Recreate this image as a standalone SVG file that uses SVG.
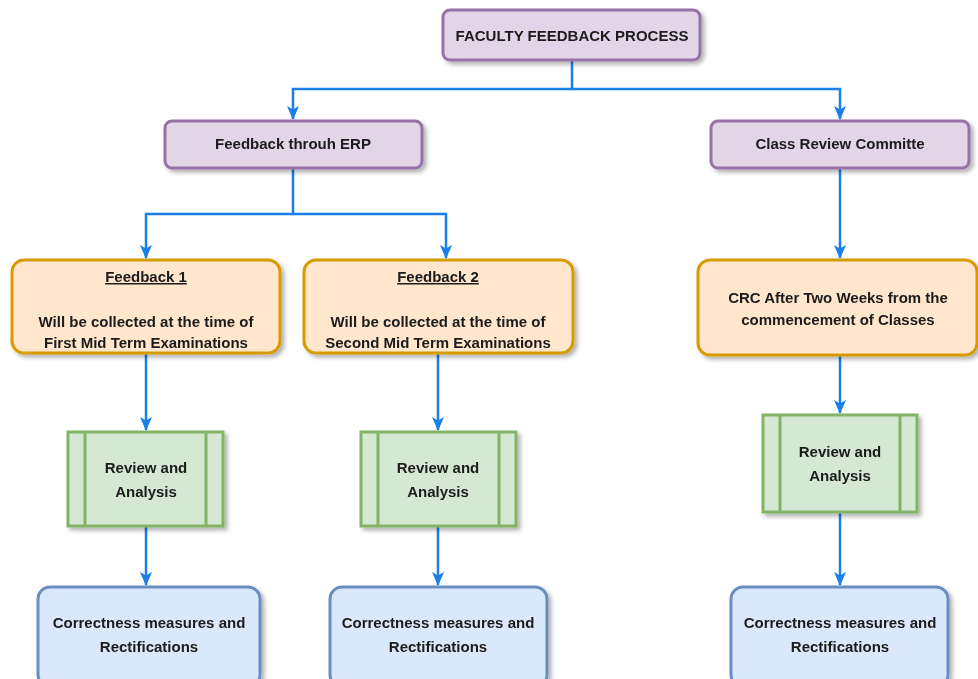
<svg xmlns="http://www.w3.org/2000/svg" width="978" height="679" viewBox="0 0 978 679">
<style>
text{font-family:"Liberation Sans",Arial,sans-serif;font-weight:bold;font-size:15px;fill:#1a1a1a;text-anchor:middle}
.p{fill:#e1d5e7;stroke:#9673a6;stroke-width:3}
.o{fill:#ffe6cc;stroke:#d79b00;stroke-width:3}
.g{fill:#d5e8d4;stroke:#82b366;stroke-width:3}
.b{fill:#dae8fc;stroke:#6c8ebf;stroke-width:3}
.c{fill:none;stroke:#1a7fe8;stroke-width:2.5}
.sh{filter:url(#sh)}
</style>
<defs>
<filter id="sh" x="-10%" y="-10%" width="130%" height="140%">
<feDropShadow dx="3" dy="3" stdDeviation="2" flood-color="#000" flood-opacity="0.3"/>
</filter>
<marker id="ar" viewBox="0 0 14 14" refX="13" refY="7" markerWidth="14" markerHeight="14" orient="auto" markerUnits="userSpaceOnUse">
<path d="M0,1 L14,7 L0,13 L3.5,7 Z" fill="#1a7fe8"/>
</marker>
</defs>
<rect width="978" height="679" fill="#fff"/>
<g id="connectors">
<path class="c" d="M572,60 V89 H293 V119" marker-end="url(#ar)"/>
<path class="c" d="M572,89 H840 V119" marker-end="url(#ar)"/>
<path class="c" d="M293,168 V214 H146 V258" marker-end="url(#ar)"/>
<path class="c" d="M293,214 H446 V258" marker-end="url(#ar)"/>
<path class="c" d="M840,168 V258" marker-end="url(#ar)"/>
<path class="c" d="M146,353 V430" marker-end="url(#ar)"/>
<path class="c" d="M438,353 V430" marker-end="url(#ar)"/>
<path class="c" d="M840,355 V413" marker-end="url(#ar)"/>
<path class="c" d="M146,526 V585" marker-end="url(#ar)"/>
<path class="c" d="M438,526 V585" marker-end="url(#ar)"/>
<path class="c" d="M840,512 V585" marker-end="url(#ar)"/>
</g>
<g id="n-top" class="sh"><rect class="p" x="443" y="10" width="257" height="50" rx="7"/><text x="572" y="41">FACULTY FEEDBACK PROCESS</text></g>
<g id="n-erp" class="sh"><rect class="p" x="165" y="121" width="257" height="47" rx="7"/><text x="293" y="149">Feedback throuh ERP</text></g>
<g id="n-crc" class="sh"><rect class="p" x="711" y="121" width="258" height="47" rx="7"/><text x="840" y="149">Class Review Committe</text></g>
<g id="n-fb1" class="sh"><rect class="o" x="12" y="260" width="268" height="93" rx="12"/><text x="146" y="282" text-decoration="underline">Feedback 1</text><text x="146" y="327">Will be collected at the time of</text><text x="146" y="348">First Mid Term Examinations</text></g>
<g id="n-fb2" class="sh"><rect class="o" x="304" y="260" width="269" height="93" rx="12"/><text x="438" y="282" text-decoration="underline">Feedback 2</text><text x="438" y="327">Will be collected at the time of</text><text x="438" y="348">Second Mid Term Examinations</text></g>
<g id="n-crcw" class="sh"><rect class="o" x="698" y="260" width="279" height="95" rx="12"/><text x="838" y="303">CRC After Two Weeks from the</text><text x="838" y="325">commencement of Classes</text></g>
<g id="n-ra1" class="sh"><rect class="g" x="68" y="432" width="155" height="94"/><path class="g" d="M85,432 V526 M206,432 V526"/><text x="146" y="473">Review and</text><text x="146" y="497">Analysis</text></g>
<g id="n-ra2" class="sh"><rect class="g" x="361" y="432" width="155" height="94"/><path class="g" d="M378,432 V526 M499,432 V526"/><text x="438" y="473">Review and</text><text x="438" y="497">Analysis</text></g>
<g id="n-ra3" class="sh"><rect class="g" x="763" y="415" width="154" height="97"/><path class="g" d="M780,415 V512 M900,415 V512"/><text x="840" y="457">Review and</text><text x="840" y="481">Analysis</text></g>
<g id="n-cm1" class="sh"><rect class="b" x="38" y="587" width="222" height="100" rx="12"/><text x="149" y="628">Correctness measures and</text><text x="149" y="652">Rectifications</text></g>
<g id="n-cm2" class="sh"><rect class="b" x="330" y="587" width="217" height="100" rx="12"/><text x="438" y="628">Correctness measures and</text><text x="438" y="652">Rectifications</text></g>
<g id="n-cm3" class="sh"><rect class="b" x="731" y="587" width="217" height="100" rx="12"/><text x="840" y="628">Correctness measures and</text><text x="840" y="652">Rectifications</text></g>
</svg>
